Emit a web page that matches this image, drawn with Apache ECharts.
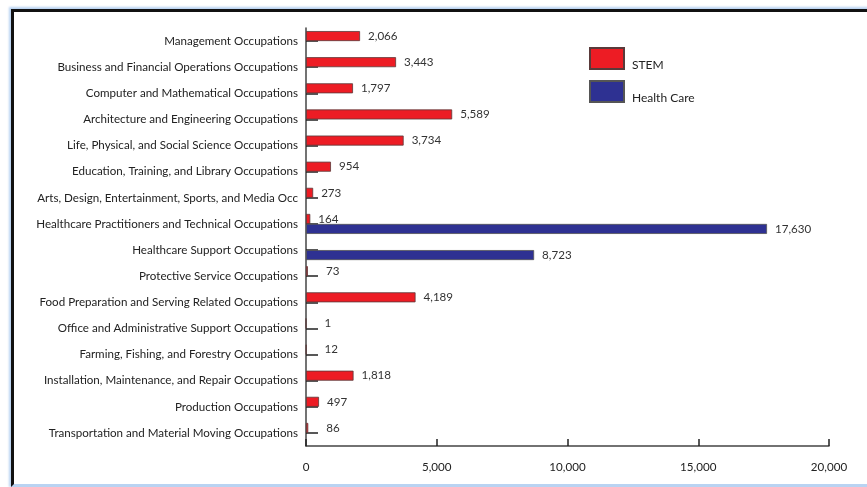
<!DOCTYPE html>
<html>
<head>
<meta charset="utf-8">
<script src="https://cdn.jsdelivr.net/npm/echarts@6/dist/echarts.min.js"></script>
<style>
  html, body { margin:0; padding:0; background:#fff; width:867px; height:487px; overflow:hidden; }
  #frame { position:absolute; left:11px; top:9px; width:900px; height:472px;
    border-left:3px solid #111; border-top:3px solid #111; border-bottom:3px solid #b9d3f2;
    box-shadow: -1px -1px 2px 1px #b9d3f2; }
  #chart { position:absolute; left:0; top:0; width:867px; height:487px; }
</style>
</head>
<body>
<div id="frame"></div>
<div id="chart"></div>
<script>
const categories = [
  "Management Occupations",
  "Business and Financial Operations Occupations",
  "Computer and Mathematical Occupations",
  "Architecture and Engineering Occupations",
  "Life, Physical, and Social Science Occupations",
  "Education, Training, and Library Occupations",
  "Arts, Design, Entertainment, Sports, and Media Occ",
  "Healthcare Practitioners and Technical Occupations",
  "Healthcare Support Occupations",
  "Protective Service Occupations",
  "Food Preparation and Serving Related Occupations",
  "Office and Administrative Support Occupations",
  "Farming, Fishing, and Forestry Occupations",
  "Installation, Maintenance, and Repair Occupations",
  "Production Occupations",
  "Transportation and Material Moving Occupations"
];
const stemValues = [2066, 3443, 1797, 5589, 3734, 954, 273, 164, null, 73, 4189, 1, 12, 1818, 497, 86];
const healthValues = [null, null, null, null, null, null, null, 17630, 8723, null, null, null, null, null, null, null];
const xTicks = [0, 5000, 10000, 15000, 20000];

const fmt = v => Number(v).toLocaleString('en-US');
const toItems = arr => arr.map(v => v == null ? null : ({ value: v, label: { distance: v < 100 ? 18 : 8 } }));
const FONT = 'Lato';
const FS = 11.6;

const chart = echarts.init(document.getElementById('chart'), null, { renderer: 'canvas' });
chart.setOption({
  backgroundColor: 'transparent',
  animation: false,
  textStyle: { fontFamily: FONT },
  legend: {
    orient: 'vertical', left: 584, top: 42,
    itemWidth: 34, itemHeight: 21, itemGap: 9,
    icon: 'rect',
    formatter: name => '{s|}{t|' + name + '}',
    textStyle: {
      fontFamily: FONT, fontSize: 12, color: '#222',
      rich: {
        s: { height: 25, width: 3 },
        t: { fontFamily: FONT, fontSize: 12, color: '#222', verticalAlign: 'bottom' }
      }
    },
    data: ['STEM', 'Health Care']
  },
  grid: { left: 306, right: 38, top: 28, bottom: 41, containLabel: false },
  xAxis: {
    type: 'value', min: xTicks[0], max: xTicks[xTicks.length - 1], interval: 5000,
    axisLine: { show: true, lineStyle: { color: '#444', width: 1.5 } },
    axisTick: { show: true, inside: true, length: 7, lineStyle: { color: '#222', width: 1.5 } },
    splitLine: { show: false },
    axisLabel: { fontFamily: FONT, fontSize: FS, color: '#222', margin: 15, formatter: v => fmt(v) }
  },
  yAxis: {
    type: 'category', data: categories, inverse: true,
    axisLine: { show: true, lineStyle: { color: '#444', width: 1.5 } },
    axisTick: { show: true, inside: true, length: 12, alignWithLabel: true, lineStyle: { color: '#222', width: 1.5 } },
    axisLabel: { fontFamily: FONT, fontSize: FS, color: '#222', margin: 8 }
  },
  series: [
    {
      name: 'STEM', type: 'bar', data: toItems(stemValues),
      barWidth: 10, barGap: '0%',
      itemStyle: { color: '#ED1C24', borderColor: '#5a3a3a', borderWidth: 0.8 },
      label: { show: true, position: 'right', fontFamily: FONT, fontSize: FS, color: '#333', formatter: p => fmt(p.value) }
    },
    {
      name: 'Health Care', type: 'bar', data: toItems(healthValues),
      barWidth: 10, barGap: '0%',
      itemStyle: { color: '#2E3192', borderColor: '#555', borderWidth: 0.8 },
      label: { show: true, position: 'right', fontFamily: FONT, fontSize: FS, color: '#333', formatter: p => fmt(p.value) }
    }
  ]
});
</script>
</body>
</html>
